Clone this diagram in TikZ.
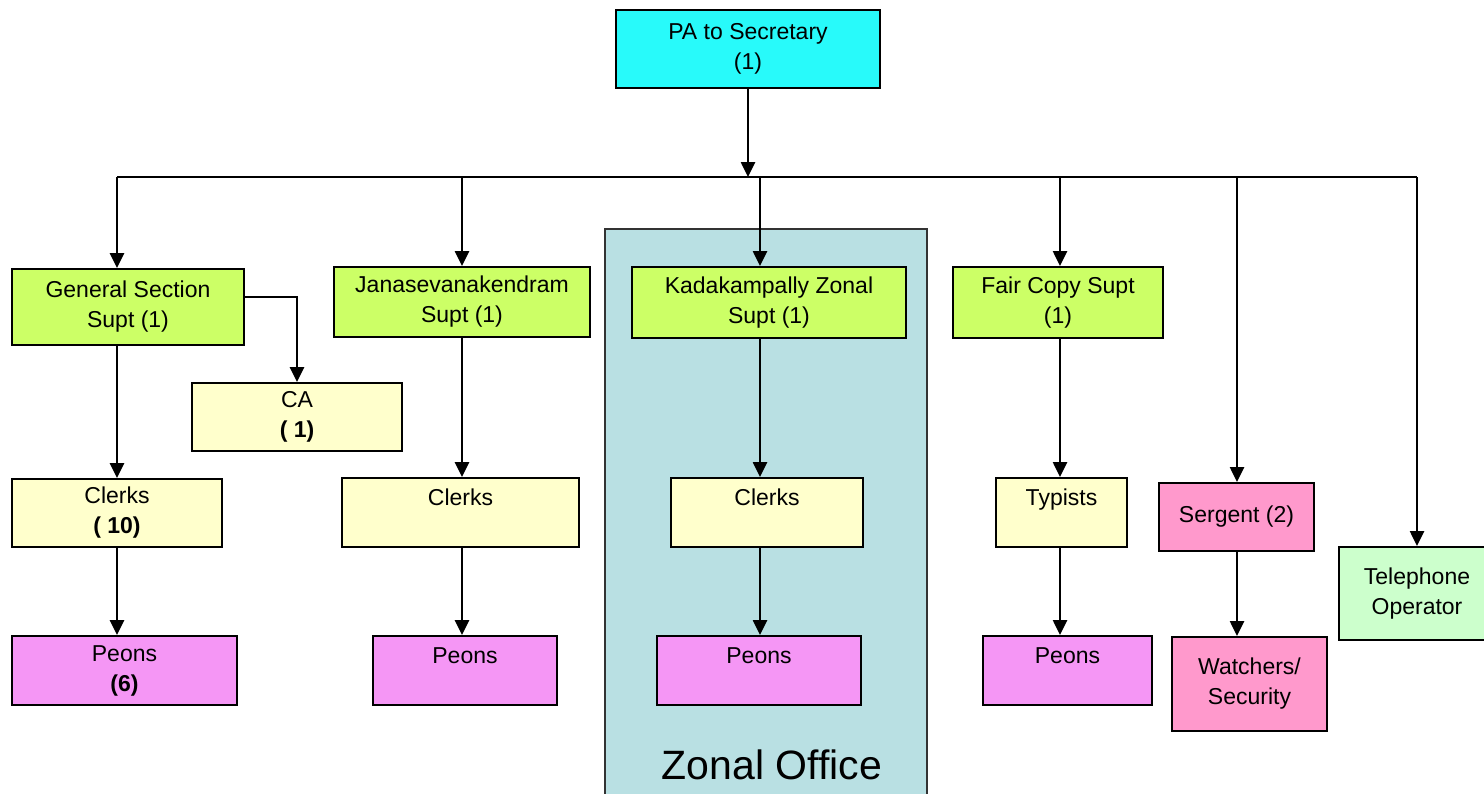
\documentclass[tikz,border=0pt]{standalone}
\usepackage{fontspec}
\setmainfont{Liberation Sans}
\usetikzlibrary{arrows.meta}

\definecolor{paCyan}{RGB}{40,250,250}
\definecolor{suptGreen}{RGB}{204,255,102}
\definecolor{clerkYellow}{RGB}{255,255,204}
\definecolor{peonPink}{RGB}{245,150,245}
\definecolor{guardPink}{RGB}{255,153,204}
\definecolor{phoneGreen}{RGB}{204,255,204}
\definecolor{zoneTeal}{RGB}{185,224,227}

\tikzset{
	box/.style={draw=black, line width=1pt, align=center, inner sep=0pt, font=\fontsize{11.5}{15}\selectfont},
	arr/.style={line width=1.3pt, -{Triangle[length=7.5pt,width=7pt]}},
	link/.style={line width=1.3pt},
}

\begin{document}
\begin{tikzpicture}[x=0.5pt, y=-0.5pt]
		%%%%% START %%%%%
		\useasboundingbox (0,0) rectangle (1484,793);
		
		% zonal office background
		\draw[fill=zoneTeal, line width=0.8pt, draw=black!80] (605,229) rectangle (927,820);
		\node[font=\fontsize{20.5}{24}\selectfont] (zonelbl) at (772,765) {Zonal Office};
		
		\node[box, fill=paCyan, minimum width=132pt, minimum height=39pt] (pa) at (748,49) {PA to Secretary\\(1)};
		
		\node[box, fill=suptGreen, minimum width=116pt, minimum height=38pt] (gen) at (128,307) {General Section\\Supt (1)};
		\node[box, fill=suptGreen, minimum width=128pt, minimum height=35pt] (jan) at (462,302) {Janasevanakendram\\Supt (1)};
		\node[box, fill=suptGreen, minimum width=137pt, minimum height=35.5pt] (kad) at (769,302.5) {Kadakampally Zonal\\Supt (1)};
		\node[box, fill=suptGreen, minimum width=105pt, minimum height=35.5pt] (fair) at (1058,302.5) {Fair Copy Supt\\(1)};
		
		\node[box, fill=clerkYellow, minimum width=105pt, minimum height=34pt] (ca) at (297,417) {CA\\\textbf{( 1)}};
		\node[box, fill=clerkYellow, minimum width=105pt, minimum height=34pt] (clk1) at (117,513) {Clerks\\\textbf{( 10)}};
		\node[box, fill=clerkYellow, minimum width=118.5pt, minimum height=34.5pt] (clk2) at (460.5,512.5) {Clerks\\\mbox{}};
		\node[box, fill=clerkYellow, minimum width=96pt, minimum height=34.5pt] (clk3) at (767,512.5) {Clerks\\\mbox{}};
		\node[box, fill=clerkYellow, minimum width=65.5pt, minimum height=34.5pt] (typ) at (1061.5,512.5) {Typists\\\mbox{}};
		
		\node[box, fill=peonPink, minimum width=112.5pt, minimum height=34.5pt] (peo1) at (124.5,670.5) {Peons\\\textbf{(6)}};
		\node[box, fill=peonPink, minimum width=92pt, minimum height=34.5pt] (peo2) at (465,670.5) {Peons\\\mbox{}};
		\node[box, fill=peonPink, minimum width=102pt, minimum height=34.5pt] (peo3) at (759,670.5) {Peons\\\mbox{}};
		\node[box, fill=peonPink, minimum width=84.5pt, minimum height=34.5pt] (peo4) at (1067.5,670.5) {Peons\\\mbox{}};
		
		\node[box, fill=guardPink, minimum width=77.5pt, minimum height=34pt] (serg) at (1236.5,517) {Sergent (2)};
		\node[box, fill=guardPink, minimum width=77.5pt, minimum height=47pt] (watch) at (1249.5,684) {Watchers/\\Security};
		\node[box, fill=phoneGreen, minimum width=78pt, minimum height=46.5pt] (tel) at (1417,593.5) {Telephone\\Operator};
		
		% bus
		\coordinate (busL) at (117,177);
		\coordinate (busR) at (1417,177);
		\draw[link] (busL) -- (busR);
		\draw[arr] (pa.south) -- (pa.south |- busL);
		
		\foreach \x/\n in {117/gen, 462/jan, 760/kad, 1060/fair, 1237/serg, 1417/tel}{
			\coordinate (d\n) at (\x,177);
			\draw[arr] (d\n) -- (d\n |- \n.north);
		}
		
		\draw[arr] ([yshift=5pt]gen.east) -| (ca.north);
		
		\draw[arr] (clk1.north |- gen.south) -- (clk1.north);
		\draw[arr] (clk1.south) -- (clk1.south |- peo1.north);
		\draw[arr] (jan.south) -- (jan.south |- clk2.north);
		\draw[arr] (jan.south |- clk2.south) -- (jan.south |- peo2.north);
		\draw[arr] (dkad |- kad.south) -- (dkad |- clk3.north);
		\draw[arr] (dkad |- clk3.south) -- (dkad |- peo3.north);
		\draw[arr] (dfair |- fair.south) -- (dfair |- typ.north);
		\draw[arr] (dfair |- typ.south) -- (dfair |- peo4.north);
		\draw[arr] (dserg |- serg.south) -- (dserg |- watch.north);
		
		%%%%% END %%%%%
	\end{tikzpicture}
\end{document}
